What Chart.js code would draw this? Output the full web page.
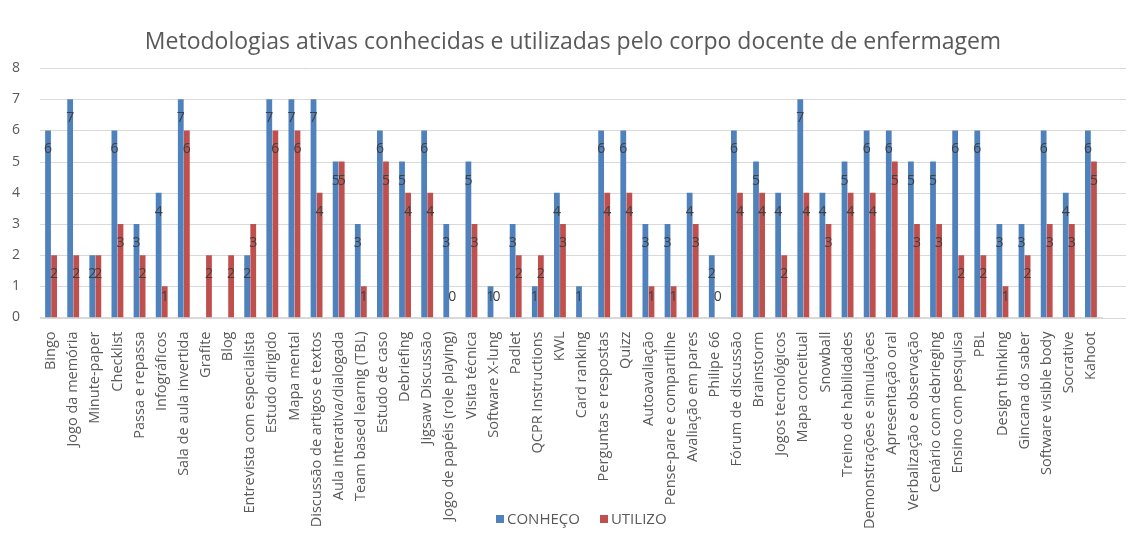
<!DOCTYPE html>
<html>
<head>
<meta charset="utf-8">
<script src="https://cdn.jsdelivr.net/npm/chart.js@4.4.1/dist/chart.umd.min.js"></script>
<style>
  html, body { margin: 0; padding: 0; background: #fff; }
  #wrap { position: relative; width: 1132px; height: 538px; }
  #titulo { position: absolute; left: 0; width: 1146px; top: 24px; text-align: center; font: 23px "Open Sans", sans-serif; color: #595959; white-space: nowrap; line-height: 32px; }
  #legend { position: absolute; left: 496px; top: 508px; font: 15px "Open Sans", sans-serif; color: #595959; white-space: nowrap; }
  #legend span.box { display: inline-block; width: 8px; height: 8px; margin-right: 3px; vertical-align: 1px; }
  #legend span.item { margin-right: 20px; }
</style>
</head>
<body>
<div id="wrap">
  <canvas id="metodologiasChart" width="1132" height="538"></canvas>
  <div id="titulo"></div>
  <div id="legend"></div>
</div>
<script>
const titulo = 'Metodologias ativas conhecidas e utilizadas pelo corpo docente de enfermagem';

// categorias (metodologias)
const categorias = [
  'Bingo', 'Jogo da memória', 'Minute-paper', 'Checklist', 'Passa e repassa',
  'Infográficos', 'Sala de aula invertida', 'Grafite', 'Blog',
  'Entrevista com especialista', 'Estudo dirigido', 'Mapa mental',
  'Discussão de artigos e textos', 'Aula interativa/dialogada',
  'Team based learnig (TBL)', 'Estudo de caso', 'Debriefing',
  'Jigsaw Discussão', 'Jogo de papéis (role playing)', 'Visita técnica',
  'Software X-lung', 'Padlet', 'QCPR Instructions', 'KWL', 'Card ranking',
  'Perguntas e respostas', 'Quizz', 'Autoavaliação', 'Pense-pare e compartilhe',
  'Avaliação em pares', 'Philipe 66', 'Fórum de discussão', 'Brainstorm',
  'Jogos tecnológicos', 'Mapa conceitual', 'Snowball', 'Treino de habilidades',
  'Demonstrações e simulações', 'Apresentação oral', 'Verbalização e observação',
  'Cenário com debrieging', 'Ensino com pesquisa', 'PBL', 'Design thinking',
  'Gincana do saber', 'Software visible body', 'Socrative', 'Kahoot'
];

const conheco = [
  6, 7, 2, 6, 3, 4, 7, null, null, 2, 7, 7, 7, 5, 3, 6, 5, 6, 3, 5,
  1, 3, 1, 4, 1, 6, 6, 3, 3, 4, 2, 6, 5, 4, 7, 4, 5, 6, 6, 5,
  5, 6, 6, 3, 3, 6, 4, 6
];

const utilizo = [
  2, 2, 2, 3, 2, 1, 6, 2, 2, 3, 6, 6, 4, 5, 1, 5, 4, 4, 0, 3,
  0, 2, 2, 3, null, 4, 4, 1, 1, 3, 0, 4, 4, 2, 4, 3, 4, 4, 5, 3,
  3, 2, 2, 1, 2, 3, 3, 5
];

const yTicks = [0, 1, 2, 3, 4, 5, 6, 7, 8];

const corConheco = '#4F81BD';
const corUtilizo = '#C0504D';
const corTexto = '#595959';
const fonte = '"Open Sans", sans-serif';

// linhas de grade horizontais (passam um pouco da última categoria, como no Excel)
const gradeY = {
  id: 'gradeY',
  beforeDatasetsDraw(chart) {
    const { ctx, chartArea, scales } = chart;
    ctx.save();
    ctx.strokeStyle = '#D9D9D9';
    ctx.lineWidth = 1;
    yTicks.forEach(v => {
      const y = Math.round(scales.y.getPixelForValue(v)) + 0.5;
      ctx.beginPath();
      ctx.moveTo(chartArea.left, y);
      ctx.lineTo(chartArea.right + 24, y);
      ctx.stroke();
    });
    ctx.restore();
  }
};

// rótulos de valor dentro das barras
const rotulosBarras = {
  id: 'rotulosBarras',
  afterDatasetsDraw(chart) {
    const ctx = chart.ctx;
    const base = chart.scales.y.getPixelForValue(0);
    ctx.save();
    ctx.font = '14px ' + fonte;
    ctx.fillStyle = '#404040';
    ctx.textAlign = 'center';
    ctx.textBaseline = 'middle';
    chart.data.datasets.forEach((ds, i) => {
      chart.getDatasetMeta(i).data.forEach((bar, j) => {
        const v = ds.data[j];
        if (v === null || v === undefined) return;
        const y = Math.min(bar.y + 19, base - 20);
        ctx.fillText(String(v), bar.x, y);
      });
    });
    ctx.restore();
  }
};

document.addEventListener('DOMContentLoaded', function () {
  document.getElementById('titulo').textContent = titulo;

  const ctx = document.getElementById('metodologiasChart');
  const chart = new Chart(ctx, {
    type: 'bar',
    data: {
      labels: categorias,
      datasets: [
        { label: 'CONHEÇO', data: conheco, backgroundColor: corConheco },
        { label: 'UTILIZO', data: utilizo, backgroundColor: corUtilizo }
      ]
    },
    options: {
      responsive: false,
      animation: false,
      layout: { padding: { left: 0, right: 30, top: 68, bottom: 3 } },
      datasets: {
        bar: { categoryPercentage: 0.55, barPercentage: 0.95 }
      },
      plugins: {
        legend: { display: false },
        tooltip: { enabled: false },
        title: { display: false }
      },
      scales: {
        y: {
          min: yTicks[0],
          max: yTicks[yTicks.length - 1],
          afterBuildTicks: (axis) => { axis.ticks = yTicks.map(v => ({ value: v })); },
          grid: { display: false },
          border: { display: false },
          ticks: { color: corTexto, font: { family: fonte, size: 14 }, padding: 12 }
        },
        x: {
          grid: { display: false },
          border: { display: true, color: '#D9D9D9' },
          ticks: {
            color: corTexto,
            autoSkip: false,
            maxRotation: 90,
            minRotation: 90,
            padding: 6,
            font: { family: fonte, size: 14.5 }
          }
        }
      }
    },
    plugins: [gradeY, rotulosBarras]
  });

  const legend = document.getElementById('legend');
  chart.data.datasets.forEach(ds => {
    const item = document.createElement('span');
    item.className = 'item';
    const box = document.createElement('span');
    box.className = 'box';
    box.style.background = ds.backgroundColor;
    item.appendChild(box);
    item.appendChild(document.createTextNode(ds.label));
    legend.appendChild(item);
  });
});
</script>
</body>
</html>
